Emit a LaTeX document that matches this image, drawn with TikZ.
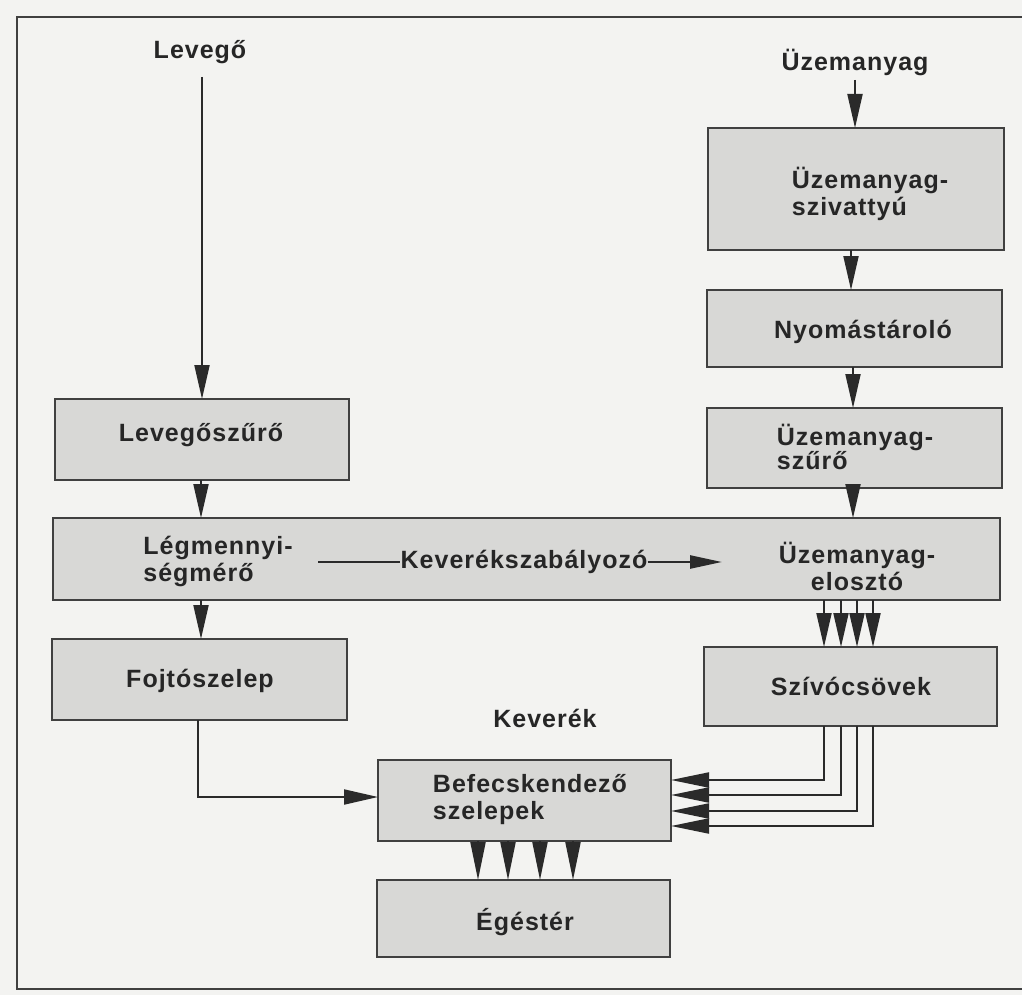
\documentclass[tikz,border=0pt]{standalone}
\usepackage{fontspec}
\newfontfamily\lab{Liberation Sans}[LetterSpace=4]
\usetikzlibrary{arrows.meta}
\definecolor{bg}{HTML}{F3F3F1}
\definecolor{boxfill}{HTML}{D8D8D6}
\definecolor{boxline}{HTML}{404040}
\definecolor{txt}{HTML}{262626}
\definecolor{lineclr}{HTML}{2A2A2A}
\tikzset{
  box/.style={draw=boxline, fill=boxfill, line width=2.5pt, inner sep=0pt, outer sep=0pt},
  lbl/.style={font=\lab\bfseries\fontsize{25}{27}\selectfont, text=txt, inner sep=0pt, align=left},
  lblc/.style={lbl, align=center},
  con/.style={draw=lineclr, line width=2pt},
  arr/.style={con, -{Triangle[length=34pt,width=15pt]}},
  arrm/.style={con, -{Triangle[length=38pt,width=15pt]}},
  arrs/.style={con, line width=2.5pt, -{Triangle[length=32pt,width=13pt]}},
  frame/.style={draw=boxline, line width=2.5pt}
}
\begin{document}
\begin{tikzpicture}[x=1pt,y=-1pt]
\fill[bg] (0,0) rectangle (1022,995);
\useasboundingbox (0,0) rectangle (1022,995);
\draw[frame] (1035,17) -- (17,17) -- (17,989) -- (1035,989);

% boxes
\node[box, minimum width=294pt, minimum height=81pt] (lsz) at (202,439.5) {};
\node[box, minimum width=947pt, minimum height=82pt] (bar) at (526.5,559) {};
\node[box, minimum width=295pt, minimum height=81pt] (fojt) at (199.5,679.5) {};
\node[box, minimum width=296pt, minimum height=122pt] (sziv) at (856,189) {};
\node[box, minimum width=295pt, minimum height=77pt] (nyom) at (854.5,328.5) {};
\node[box, minimum width=295pt, minimum height=80pt] (usz) at (854.5,448) {};
\node[box, minimum width=293pt, minimum height=79pt] (szc) at (850.5,686.5) {};
\node[box, minimum width=293pt, minimum height=81pt] (bef) at (524.5,800.5) {};
\node[box, minimum width=293pt, minimum height=77pt] (eg) at (523.5,918.5) {};

% texts
\node[lbl] (lev) at (200,52) {Levegő};
\node[lbl] (uz) at (855,62) {Üzemanyag};
\node[lbl] (tlsz) at (201,435) {Levegőszűrő};
\node[lbl] (tlm) at (218,561) {Légmennyi-\\ségmérő};
\node[lbl] (kev) at (524,562) {Keverékszabályozó};
\node[lblc] (telo) at (857,566) {Üzemanyag-\\elosztó};
\node[lbl] (tfojt) at (200,681) {Fojtószelep};
\node[lbl] (tsziv) at (870,194) {Üzemanyag-\\szivattyú};
\node[lbl] (tnyom) at (863,332) {Nyomástároló};
\node[lbl, font=\lab\bfseries\fontsize{25}{21}\selectfont] (tusz) at (855,447) {Üzemanyag-\\szűrő};
\node[lbl] (tszc) at (851,686) {Szívócsövek};
\node[lbl] (kvk) at (545,718) {Keverék};
\node[lbl] (tbef) at (530,800) {Befecskendező\\szelepek};
\node[lbl] (teg) at (525,922) {Égéstér};

% air path
\coordinate (levtop) at (202,77);
\draw[arr] (levtop) -- (levtop |- lsz.north);
\coordinate (ax) at (201,0);
\draw[arr] (ax |- lsz.south) -- (ax |- bar.north);
\draw[arr] (ax |- bar.south) -- (ax |- fojt.north);
\coordinate (fk) at (198,797);
\draw[arr] (fk |- fojt.south) -- (fk) -- (fk -| bef.west);

% fuel path
\coordinate (uztop) at (855,80);
\draw[arr] (uztop) -- (uztop |- sziv.north);
\coordinate (fx) at (851,0);
\draw[arr] (fx |- sziv.south) -- (fx |- nyom.north);
\coordinate (fy) at (853,0);
\draw[arr] (fy |- nyom.south) -- (fy |- usz.north);
\draw[arr] (fy |- usz.south) -- (fy |- bar.north);

% mixture control
\coordinate (ks) at (318,562);
\coordinate (ke) at (722,562);
\draw[con, line width=2.5pt] (ks) -- (kev.west);
\draw[arrs] (kev.east) -- (ke);

% distributor to intake pipes
\foreach \x [count=\i] in {824,841,857,873} {
  \coordinate (d\i) at (\x,0);
  \draw[arr] (d\i |- bar.south) -- (d\i |- szc.north);
}

% intake pipes to injectors
\foreach \x/\y [count=\i] in {824/780,841/795,857/811,873/826} {
  \coordinate (p\i) at (\x,\y);
  \draw[arrm] (p\i |- szc.south) -- (p\i) -- (p\i -| bef.east);
}

% injectors to combustion chamber
\foreach \x [count=\i] in {478,508,540,573} {
  \coordinate (e\i) at (\x,0);
  \draw[arrm] (e\i |- bef.south) -- (e\i |- eg.north);
}
\end{tikzpicture}
\end{document}
